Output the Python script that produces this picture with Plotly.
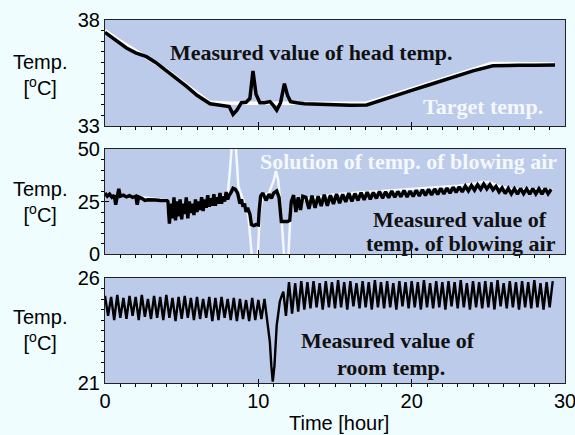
import numpy as np
import plotly.graph_objects as go
from plotly.subplots import make_subplots

# ---------------- Data ----------------
# Top: head temperature [degC] vs time [hour]
head_t = [0, 0.5, 1.0, 1.4, 2.0, 2.7, 3.3, 4.0, 4.7, 5.3, 6.0, 6.5, 6.85, 7.3, 7.8, 8.1,
          8.35, 8.6, 8.9, 9.2, 9.45, 9.65, 9.85, 10.1, 10.4, 10.76, 11.0, 11.2, 11.45,
          11.7, 11.9, 12.1, 12.5, 13, 14, 15, 16, 17.07, 18, 19, 20, 21, 22, 23, 24,
          25.3, 26, 27, 28, 29.35]
head_meas = [37.42, 37.15, 36.9, 36.68, 36.45, 36.27, 36.0, 35.6, 35.25, 34.88, 34.45,
             34.2, 34.05, 34.0, 33.97, 33.92, 33.55, 33.75, 34.1, 34.12, 34.3, 35.6, 34.5,
             34.1, 34.1, 34.15, 33.95, 33.75, 34.1, 35.0, 34.45, 34.15, 34.1, 34.05, 34.03,
             34.0, 33.98, 33.99, 34.22, 34.45, 34.68, 34.91, 35.14, 35.37, 35.6, 35.84,
             35.86, 35.86, 35.87, 35.88]
target_t = [0, 1, 2, 4, 6.8, 8, 17.0, 25.2, 29.3]
target_val = [37.5, 37.0, 36.55, 35.65, 34.12, 34.08, 34.07, 35.95, 35.93]

# Middle: blowing air temperature [degC]
air_t_a = [0, 0.15, 0.3, 0.45, 0.6, 0.7, 0.8, 0.9, 1.0, 1.2, 1.4, 1.6, 1.8, 2.0, 2.1,
           2.2, 2.4, 2.6, 2.8, 3.0, 3.3, 3.6, 3.9, 4.05]
air_a = [29.0, 27.5, 28.5, 27.0, 28.0, 23.5, 27.5, 31.0, 27.5, 28.0, 27.2, 27.8, 27.0,
         27.5, 23.5, 27.2, 26.5, 25.5, 25.8, 25.6, 25.7, 25.5, 25.6, 25.4]
air_b_start, air_b_step = 4.1, 0.1
air_b = [25, 14.5, 24, 17, 27, 16, 25, 18, 26, 16.5, 24, 19, 27, 17, 25, 19.5, 24, 18.5,
         26, 20, 25, 21, 27, 20.5, 26, 22, 28, 22.5, 26.5, 23, 28.5, 23, 27, 24, 29, 24,
         27.5, 25, 29.5, 26, 28]
air_t_c = [8.2, 8.35, 8.5, 8.65, 8.8, 8.9, 9.0, 9.1, 9.2, 9.3, 9.45, 9.55, 9.7, 9.85,
           10.0, 10.05, 10.15, 10.3, 10.5, 10.7, 10.85, 11.0, 11.2, 11.35, 11.45, 11.5,
           11.7, 11.9, 12.05, 12.15, 12.3, 12.45, 12.6, 12.75, 12.9]
air_c = [29, 31.3, 30.8, 29, 24, 26, 22.5, 24, 20, 22, 19, 14, 13.5, 14, 13.8, 20, 27.5,
         29, 25.5, 28.5, 26.5, 29, 30, 27, 20, 15.5, 15.5, 15.5, 16, 25, 28, 20, 27, 21,
         27.5]
air_d_start, air_d_step = 13.1, 0.2
air_d = [27.0, 21.5, 27.8, 22.0, 27.5, 22.8, 28.2, 23.0, 28.0, 23.8, 28.6, 24.2, 28.4,
         24.8, 29.0, 25.0, 28.8, 25.5, 29.2, 25.8, 29.5, 26.0, 29.3, 26.5, 29.8, 26.6,
         29.6, 26.8, 30.0, 27.0, 29.8, 27.2, 30.2, 27.1, 30.0, 27.4, 30.4, 27.6, 30.6,
         27.9, 30.8, 28.1, 31.0, 28.4, 31.3, 28.6, 31.4, 29.0, 31.8, 29.3, 32.0, 29.6,
         32.3, 30.0, 32.6, 30.4, 33.0, 30.8, 33.3, 31.0, 33.0, 30.5, 32.2, 29.6, 31.5,
         28.8, 31.2, 28.6, 31.0, 28.5, 31.2, 28.7, 31.0, 28.5, 31.1, 28.6, 31.0, 28.5,
         31.2, 28.7, 30.8]
sol_t = [0, 2, 4, 4.1, 5, 6, 7, 8.0, 8.15, 8.3, 8.5, 8.7, 9.0, 9.35, 9.6, 9.95, 10.1,
         10.3, 10.7, 11.0, 11.15, 11.3, 11.5, 11.7, 11.95, 12.1, 12.3, 13, 15, 17, 19, 21,
         23, 24, 24.6, 25.1, 25.6, 26.5, 29.2]
sol_val = [28, 27.5, 25.5, 21, 22, 24, 26, 28, 40, 55, 55, 32, 26, 18, -3, -3, 20, 28,
           29, 35, 39.5, 35, 18, -3, -3, 20, 27, 26, 28.5, 29.5, 30.2, 31.2, 32.5, 33.5,
           34.4, 34.2, 32.5, 31, 30.5]

# Bottom: room temperature [degC]
room_a_step = 0.2
room_a = [25.15, 24.2, 25.1, 24.0, 25.2, 24.1, 25.05, 24.05, 25.15, 24.2, 25.1, 24.0,
          25.2, 24.15, 25.0, 24.05, 25.15, 24.1, 25.1, 24.0, 25.2, 24.1, 25.05, 23.95,
          25.1, 24.05, 25.15, 24.1, 25.05, 24.0, 25.1, 24.05, 25.0, 24.1, 25.1, 23.95,
          25.05, 24.0, 25.1, 24.1, 25.0, 24.0, 25.05, 23.95, 25.0, 24.05, 24.95, 23.95,
          25.05, 24.0, 24.95, 24.05, 25.0, 23.95]
room_t_b = [10.75, 10.85, 10.94, 11.05, 11.2, 11.3, 11.4, 11.5, 11.63]
room_b = [22.97, 21.8, 21.06, 21.8, 23.76, 24.3, 24.87, 25.1, 25.35]
room_c_start, room_c_step = 11.8, 0.2
room_c = [24.2, 25.8, 24.3, 25.75, 24.4, 25.85, 24.5, 25.8, 24.55, 25.85, 24.6, 25.75,
          24.5, 25.85, 24.6, 25.8, 24.55, 25.9, 24.6, 25.8, 24.5, 25.85, 24.65, 25.75,
          24.55, 25.85, 24.6, 25.8, 24.5, 25.9, 24.6, 25.8, 24.55, 25.85, 24.6, 25.75,
          24.5, 25.85, 24.65, 25.8, 24.55, 25.85, 24.6, 25.8, 24.5, 25.9, 24.6, 25.75,
          24.55, 25.85, 24.6, 25.8, 24.5, 25.85, 24.65, 25.8, 24.55, 25.9, 24.6, 25.75,
          24.5, 25.85, 24.6, 25.8, 24.55, 25.85, 24.6, 25.8, 24.5, 25.9, 24.65, 25.75,
          24.55, 25.85, 24.6, 25.8, 24.5, 25.85, 24.6, 25.8, 24.55, 25.9, 24.6, 25.75,
          24.5, 25.8, 24.6, 25.85]

# ---------------- Assemble ----------------
air_t = (air_t_a + [air_b_start + air_b_step * i for i in range(len(air_b))] + air_t_c
         + [air_d_start + air_d_step * i for i in range(len(air_d))])
air_v = air_a + air_b + air_c + air_d
room_t = ([room_a_step * i for i in range(len(room_a))] + room_t_b
          + [room_c_start + room_c_step * i for i in range(len(room_c))])
room_v = room_a + room_b + room_c

W, H = 575, 435
L, R, T, B = 105, 565, 20, 383
pw, ph = R - L, B - T

def yd(top, bot):
    return [(B - bot) / ph, (B - top) / ph]

fig = make_subplots(rows=3, cols=1)
fig.add_trace(go.Scatter(x=target_t, y=target_val, mode="lines",
                         line=dict(color="#ffffff", width=3.5), showlegend=False), 1, 1)
fig.add_trace(go.Scatter(x=head_t, y=head_meas, mode="lines",
                         line=dict(color="#000000", width=3.5), showlegend=False), 1, 1)
fig.add_trace(go.Scatter(x=sol_t, y=sol_val, mode="lines",
                         line=dict(color="#f4f8ff", width=2.5), showlegend=False), 2, 1)
fig.add_trace(go.Scatter(x=air_t, y=air_v, mode="lines",
                         line=dict(color="#000000", width=3.4), showlegend=False), 2, 1)
fig.add_trace(go.Scatter(x=room_t, y=room_v, mode="lines",
                         line=dict(color="#000000", width=2.4), showlegend=False), 3, 1)

axis_font = dict(family="Liberation Sans, Arial", size=20, color="#000")
common_x = dict(range=[0, 30], tickvals=[0, 10, 20, 30], ticks="inside", ticklen=4,
                tickcolor="#000", showline=True, linecolor="#222", linewidth=1,
                mirror=True, showgrid=False, zeroline=False, tickfont=axis_font,
                ticklabeloverflow="allow", automargin=False,
                minor=dict(dtick=1, ticks="outside", ticklen=3, tickcolor="#000"))
fig.update_xaxes(common_x)
fig.update_xaxes(showticklabels=False, row=1, col=1)
fig.update_xaxes(showticklabels=False, row=2, col=1)
fig.update_xaxes(domain=[0, 1])

common_y = dict(ticks="inside", ticklen=4, tickcolor="#000", showline=True,
                linecolor="#222", linewidth=1, mirror=True, showgrid=False,
                zeroline=False, tickfont=axis_font, automargin=False)
fig.update_yaxes(common_y)
fig.update_yaxes(range=[33, 38], tickvals=[33, 38], domain=yd(20, 126),
                 minor=dict(dtick=0.5, ticks="outside", ticklen=3, tickcolor="#000"),
                 row=1, col=1)
fig.update_yaxes(range=[0, 50], tickvals=[0, 25, 50], domain=yd(149, 254),
                 minor=dict(dtick=5, ticks="outside", ticklen=3, tickcolor="#000"),
                 row=2, col=1)
fig.update_yaxes(range=[21, 26], tickvals=[21, 26], domain=yd(278, 383),
                 minor=dict(dtick=0.5, ticks="outside", ticklen=3, tickcolor="#000"),
                 row=3, col=1)

def px(xp, yp):
    return (xp - L) / pw, (B - yp) / ph

serif = dict(family="Liberation Serif, Times New Roman", size=22)
ann = []
def add(text, xp, yp, color, font=serif, bold=True):
    x, y = px(xp, yp)
    ann.append(dict(text=("<b>%s</b>" % text) if bold else text, x=x, y=y,
                    xref="paper", yref="paper", showarrow=False,
                    xanchor="center", yanchor="middle",
                    font=dict(color=color, **font)))

add("Measured value of head temp.", 311, 52, "#111")
add("Target temp.", 483, 107, "#f4f8ff")
add("Solution of temp. of blowing air", 408, 162, "#f4f8ff")
add("Measured value of", 460, 219, "#111")
add("temp. of blowing air", 461, 243, "#111")
add("Measured value of", 388, 340, "#111")
add("room temp.", 391, 367, "#111")
sans = dict(family="Liberation Sans, Arial", size=20)
for yc in (75, 202, 330):
    add("Temp.<br>[<sup>o</sup>C]", 40, yc, "#000", font=sans, bold=False)
add("Time [hour]", 339, 423, "#000", font=sans, bold=False)

fig.update_layout(width=W, height=H, annotations=ann,
                  margin=dict(l=L, r=W - R, t=T, b=H - B),
                  paper_bgcolor="#f0fdfe", plot_bgcolor="#bccbe9",
                  showlegend=False)
fig.write_html("out.html", config={"displayModeBar": False},
               post_script="document.body.style.margin='0';"
                           "document.body.style.overflow='hidden';"
                           "document.body.style.background='#f0fdfe';")
